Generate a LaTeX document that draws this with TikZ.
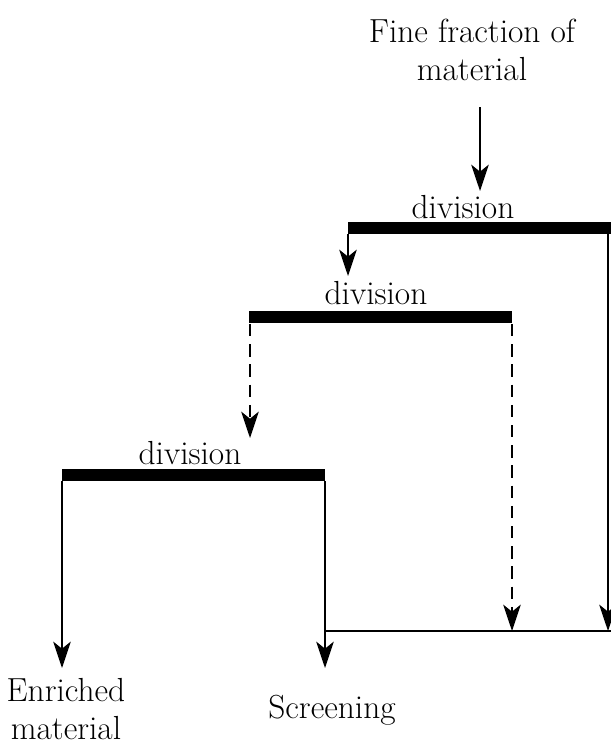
\documentclass[tikz,border=0pt]{standalone}
\tikzset{
every picture/.style={
line width=1.1pt
}}
\usetikzlibrary{positioning,arrows.meta}

\begin{document}
\begin{tikzpicture}[x=0.02cm, y=-0.02cm,
label/.style = {font=\fontsize{19}{22}\selectfont, align=center, inner sep=0pt},
bar/.style = {line width=6.8pt},
flow/.style = {-{Stealth[length=15pt, width=10pt, inset=4pt]}},
back/.style = {flow, dash pattern=on 7pt off 4.5pt}]
\useasboundingbox (0,0) rectangle (611,747);

\node[label] at (472,50) (feed) {Fine fraction of\\material};
\node[label] at (463,207) (d1) {division};
\node[label] at (376,293) (d2) {division};
\node[label] at (190,453) (d3) {division};
\node[label] at (66,709) (enr) {Enriched\\material};
\node[label] at (332,710) (scr) {Screening};

% division bars
\coordinate (a1) at (348,228); \coordinate (b1) at (611,228);
\coordinate (a2) at (249,317); \coordinate (b2) at (512,317);
\coordinate (a3) at (62,475);  \coordinate (b3) at (325,475);
\draw[bar] (a1) -- (b1);
\draw[bar] (a2) -- (b2);
\draw[bar] (a3) -- (b3);

% return line
\coordinate (r1) at (325,631); \coordinate (r2) at (611,631);
\coordinate (t2) at (512,631); \coordinate (t1) at (608,631);
\draw[-] (r1) -- (r2);

\draw[flow] (480,107) -- (480,191);
\draw[flow] (a1) ++(0,6) -- (348,276);
\draw[flow] (608,234) -- (t1);
\draw[back] (250,324) -- (250,438);
\draw[back] (512,324) -- (t2);
\draw[flow] (a3) ++(0,6) -- (62,668);
\draw[flow] (b3) ++(0,6) -- (325,668);
\end{tikzpicture}
\end{document}
